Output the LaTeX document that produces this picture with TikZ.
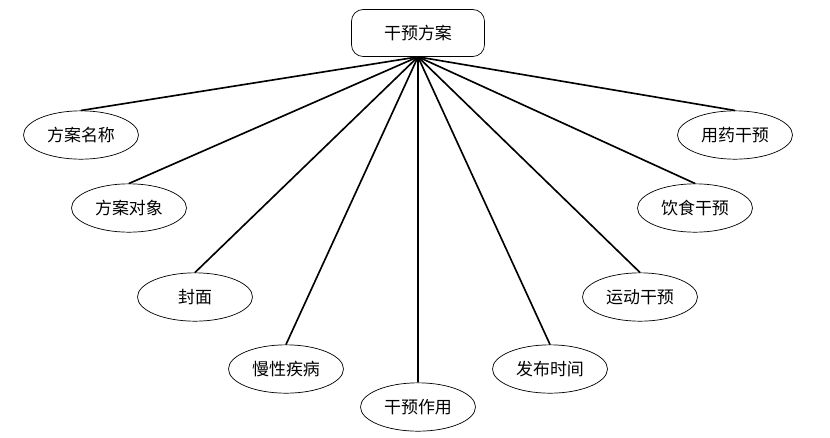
\documentclass[tikz,border=0pt]{standalone}
\usepackage{fontspec}
\newfontfamily\cjk{Noto Sans CJK SC}
\usepackage{tikz}
\usetikzlibrary{positioning,shapes.geometric}

\begin{document}
\begin{tikzpicture}[x=0.03cm,y=-0.03cm,
  font=\cjk\fontsize{14.5}{17}\selectfont,
  item/.style={draw,ellipse,minimum width=3.45cm,minimum height=1.45cm,inner sep=0pt,line width=0.6pt},
  link/.style={line width=1.4pt}]
\useasboundingbox (0,0) rectangle (830,437);
\node[draw,rounded corners=10pt,minimum width=3.99cm,minimum height=1.41cm,line width=0.6pt] (plan) at (418,33) {干预方案};
\node[item] (name) at (81,135) {方案名称};
\node[item] (target) at (129,208) {方案对象};
\node[item] (cover) at (195,297) {封面};
\node[item] (disease) at (286,369) {慢性疾病};
\node[item] (effect) at (418,407) {干预作用};
\node[item] (release) at (550,369) {发布时间};
\node[item] (sport) at (640,297) {运动干预};
\node[item] (diet) at (695,208) {饮食干预};
\node[item] (drug) at (735,135) {用药干预};
\foreach \n in {name,target,cover,disease,effect,release,sport,diet,drug}
  \draw[link] (plan.south) -- (\n.north);
\end{tikzpicture}
\end{document}
